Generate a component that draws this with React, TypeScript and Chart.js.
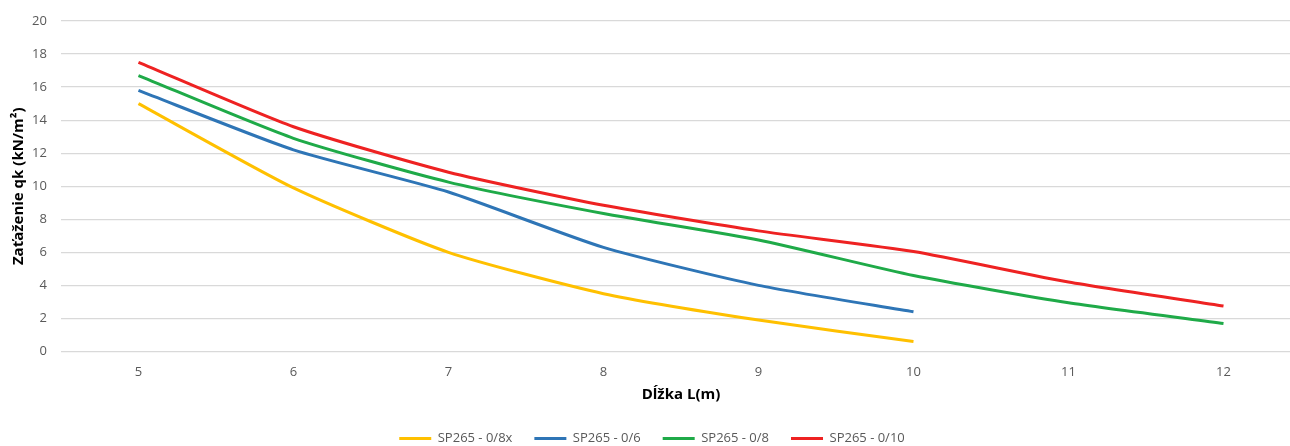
import React, { useEffect, useRef } from "react";
import { Chart, registerables } from "chart.js";

Chart.register(...registerables);

const categories = ["5", "6", "7", "8", "9", "10", "11", "12"];
const seriesNames = ["SP265 - 0/8x", "SP265 - 0/6", "SP265 - 0/8", "SP265 - 0/10"];
const yellowValues = [15.0, 9.9, 6.0, 3.5, 1.9, 0.6];
const blueValues = [15.8, 12.2, 9.65, 6.3, 4.0, 2.4];
const greenValues = [16.7, 12.9, 10.25, 8.35, 6.75, 4.6, 2.95, 1.7];
const redValues = [17.5, 13.6, 10.85, 8.85, 7.3, 6.05, 4.2, 2.75];
const seriesColors = ["#FFC000", "#2E75B6", "#1FAA48", "#EE2222"];
const yTickMin = 0;
const yTickMax = 20;
const yTickStep = 2;

const FONT = "'Open Sans', sans-serif";

export default function App() {
  const canvasRef = useRef<HTMLCanvasElement | null>(null);

  useEffect(() => {
    if (!canvasRef.current) return;
    const allValues = [yellowValues, blueValues, greenValues, redValues];
    const chart = new Chart(canvasRef.current, {
      type: "line",
      data: {
        labels: categories,
        datasets: allValues.map((vals, i) => ({
          label: seriesNames[i],
          data: vals,
          borderColor: seriesColors[i],
          backgroundColor: seriesColors[i],
          borderWidth: 3,
          pointRadius: 0,
          pointHoverRadius: 0,
          pointStyle: "line" as const,
          tension: 0.2,
          fill: false,
        })),
      },
      options: {
        animation: false,
        responsive: true,
        maintainAspectRatio: false,
        layout: { padding: { top: 21, left: 3, right: 0, bottom: 0 } },
        plugins: {
          tooltip: { enabled: false },
          legend: {
            position: "bottom",
            align: "center",
            labels: {
              usePointStyle: true,
              pointStyleWidth: 32,
              padding: 22,
              color: "#595959",
              font: { family: FONT, size: 13 },
            },
          },
        },
        scales: {
          x: {
            offset: true,
            grid: {
              display: true,
              drawOnChartArea: false,
              drawTicks: true,
              tickLength: 13,
              tickColor: "rgba(0,0,0,0)",
              color: "rgba(0,0,0,0)",
            },
            border: { display: false },
            ticks: {
              color: "#595959",
              font: { family: FONT, size: 13 },
              padding: 0,
              maxRotation: 0,
            },
            title: {
              display: true,
              text: "Dĺžka L(m)",
              color: "#000000",
              font: { family: FONT, size: 15, weight: "bold" },
              padding: { top: 5.9, bottom: 6 },
            },
          },
          y: {
            min: yTickMin,
            max: yTickMax,
            grid: {
              color: "#D9D9D9",
              lineWidth: 1.2,
              drawTicks: true,
              tickLength: 14,
              tickColor: "rgba(0,0,0,0)",
            },
            border: { display: false },
            ticks: {
              stepSize: yTickStep,
              color: "#595959",
              font: { family: FONT, size: 13 },
              padding: 0,
            },
            title: {
              display: true,
              text: "Zaťaženie qk (kN/m²)",
              color: "#000000",
              font: { family: FONT, size: 15, weight: "bold" },
              padding: { top: 6.5, bottom: 4.6 },
            },
          },
        },
      },
    });
    return () => chart.destroy();
  }, []);

  return (
    <div
      style={{
        position: "fixed",
        left: 0,
        top: 0,
        width: 1290,
        height: 446,
        overflow: "hidden",
        background: "#ffffff",
      }}
    >
      <div style={{ position: "relative", width: 1301, height: 455 }}>
        <canvas ref={canvasRef} />
      </div>
    </div>
  );
}
